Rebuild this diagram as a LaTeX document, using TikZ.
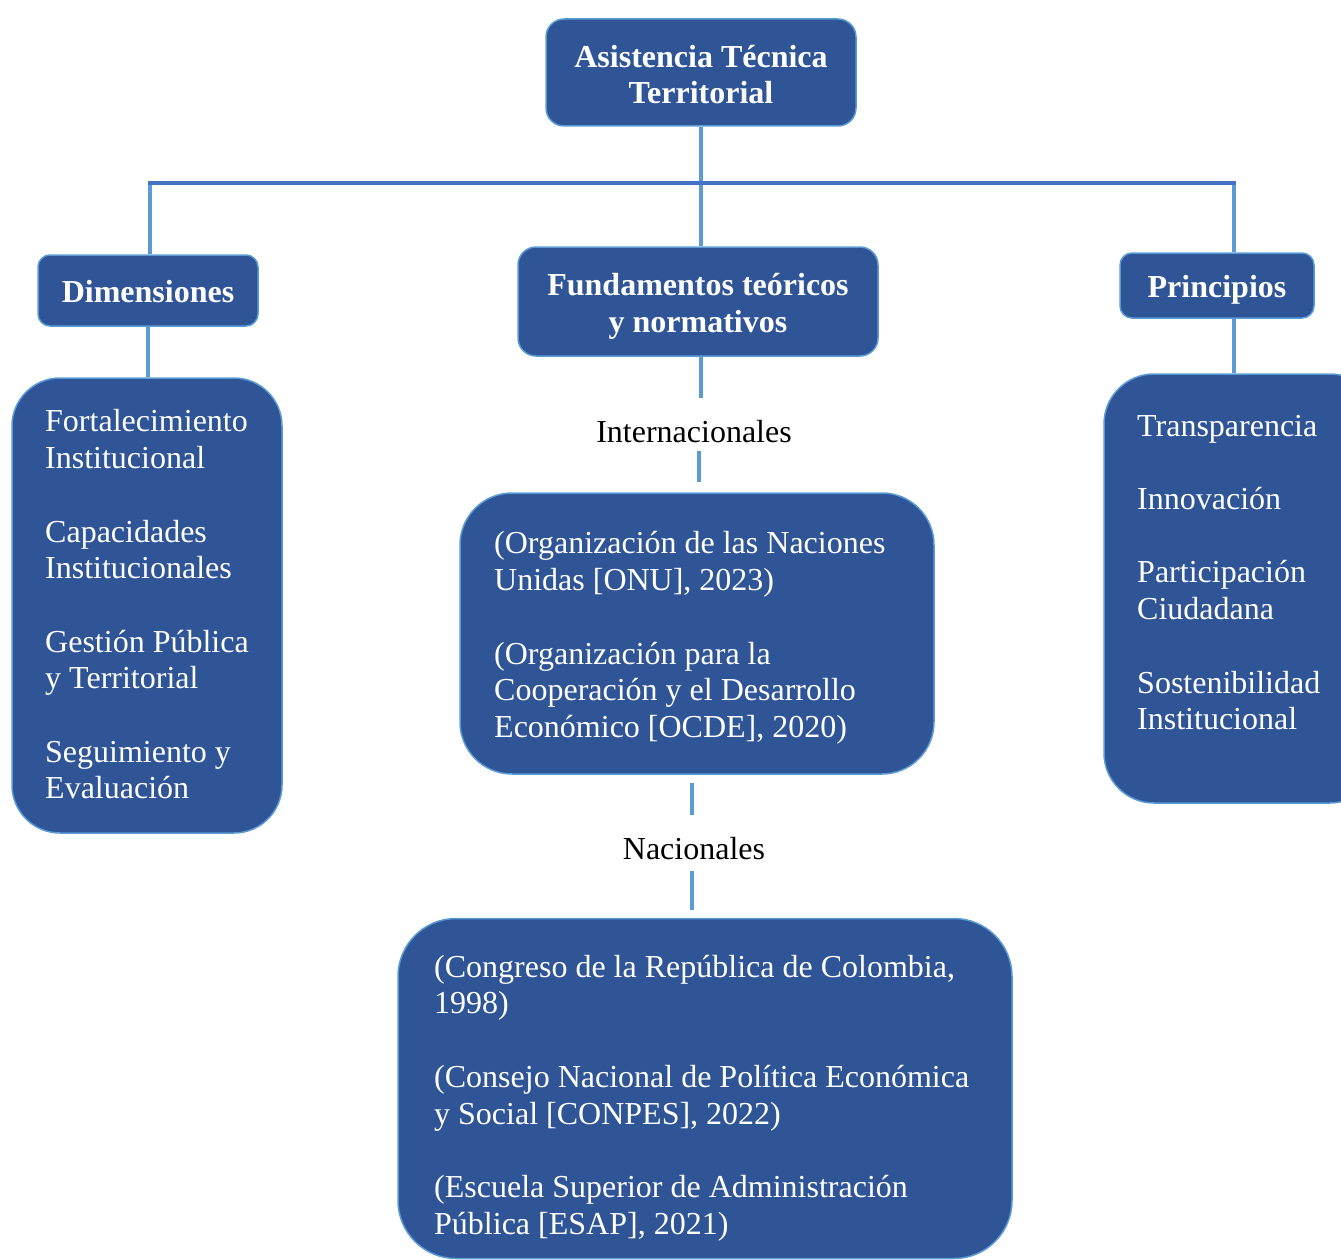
\documentclass[tikz,border=0pt]{standalone}
\usepackage{fontspec}
\setmainfont{Liberation Serif}
\definecolor{boxfill}{RGB}{47,85,151}
\definecolor{boxline}{RGB}{91,155,213}
\definecolor{hline}{RGB}{68,114,196}
\definecolor{vline}{RGB}{91,155,213}
\begin{document}
\begin{tikzpicture}[x=1pt,y=-1pt,
  hbox/.style={draw=boxline, line width=1.5pt, fill=boxfill, inner sep=0pt},
  htext/.style={text=white, align=center, inner sep=0pt,
    font=\fontsize{32}{36.5}\selectfont\bfseries},
  lbox/.style={draw=boxline, line width=1.5pt, fill=boxfill, inner sep=0pt},
  ltext/.style={text=white, align=left, inner sep=0pt, anchor=west,
    font=\fontsize{32}{36.7}\selectfont},
  lab/.style={inner sep=0pt, font=\fontsize{32}{36.7}\selectfont},
  conn/.style={draw=vline, line width=4pt},
  hconn/.style={draw=hline, line width=4pt}]
\useasboundingbox (0,0) rectangle (1341,1260);
\clip (0,0) rectangle (1341,1260);

% title boxes
\node[hbox, rounded corners=18pt, minimum width=310pt, minimum height=107pt] (top) at (701,72.5) {};
\node[hbox, rounded corners=12pt, minimum width=220pt, minimum height=71pt] (dim) at (148,290.5) {};
\node[hbox, rounded corners=18pt, minimum width=360pt, minimum height=109pt] (fund) at (698,301.5) {};
\node[hbox, rounded corners=12pt, minimum width=194pt, minimum height=65pt] (prin) at (1217,285.5) {};
\node[htext] (toptext) at ([yshift=-2pt]top.center) {Asistencia Técnica\\Territorial};
\node[htext] (dimtitle) at ([yshift=-1pt]dim.center) {Dimensiones};
\node[htext] (fundtext) at ([yshift=-5pt]fund.center) {Fundamentos teóricos\\y normativos};
\node[htext] (printitle) at ([yshift=-4pt]prin.center) {Principios};

% list boxes
\node[lbox, rounded corners=48pt, minimum width=270pt, minimum height=455pt] (dimlist) at (147,605.5) {};
\node[lbox, rounded corners=52pt, minimum width=474pt, minimum height=281pt] (intlist) at (697,633.5) {};
\node[lbox, rounded corners=58pt, minimum width=614pt, minimum height=340pt] (naclist) at (705,1088.5) {};
\node[lbox, rounded corners=50pt, minimum width=276pt, minimum height=429pt] (prinlist) at (1242,588.5) {};

% list texts
\node[ltext] (dimtext) at (45,604.5) {Fortalecimiento\\Institucional\\[36.7pt]Capacidades\\Institucionales\\[36.7pt]Gestión Pública\\y Territorial\\[36.7pt]Seguimiento y\\Evaluación};
\node[ltext] (inttext) at (494,638) {(Organización de las Naciones\\Unidas [ONU], 2023)\\[36.7pt](Organización para la\\Cooperación y el Desarrollo\\Económico [OCDE], 2020)};
\node[ltext] (nactext) at (434,1098) {(Congreso de la República de Colombia,\\1998)\\[36.7pt](Consejo Nacional de Política Económica\\y Social [CONPES], 2022)\\[36.7pt](Escuela Superior de Administración\\Pública [ESAP], 2021)};
\node[ltext] (printext) at (1137,572.5) {Transparencia\\[36.7pt]Innovación\\[36.7pt]Participación\\Ciudadana\\[36.7pt]Sostenibilidad\\Institucional};

% labels
\node[lab] (intl) at (694,432) {Internacionales};
\node[lab] (natl) at (694,849) {Nacionales};

% connectors
\coordinate (hl) at (150,183);
\coordinate (hr) at (1234,183);
\draw[conn] (top.south) -- (top.south |- fund.north);
\draw[conn] (hl) -- (hl |- dim.north);
\draw[conn] (hr) -- (hr |- prin.north);
\draw[hconn] ([xshift=-2pt]hl) -- ([xshift=2pt]hr);
\draw[conn] (dim.south) -- (dim.south |- dimlist.north);
\draw[conn] (hr |- prin.south) -- (hr |- prinlist.north);
\draw[conn, shorten >=23pt] (top.south |- fund.south) -- (top.south |- intl.north);
\draw[conn, shorten <=8pt, shorten >=10pt] ([xshift=5pt]intl.south) -- ([xshift=5pt]intl.south |- intlist.north);
\draw[conn, shorten <=8pt, shorten >=23pt] ([xshift=-2pt]natl.north |- intlist.south) -- ([xshift=-2pt]natl.north);
\draw[conn, shorten <=11pt, shorten >=8pt] ([xshift=-2pt]natl.south) -- ([xshift=-2pt]natl.south |- naclist.north);
\end{tikzpicture}
\end{document}
